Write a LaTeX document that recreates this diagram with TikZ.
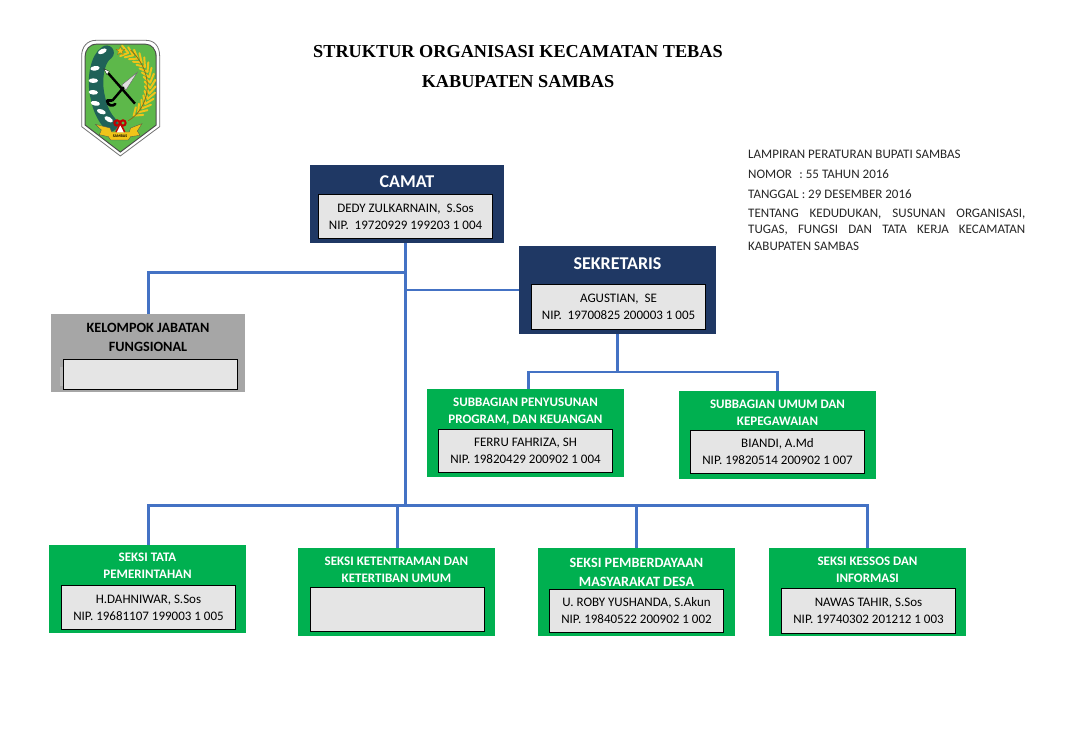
\documentclass[tikz,border=0pt]{standalone}
\usepackage{fontspec}
\setmainfont{Carlito}
\newfontfamily\serifbold{Liberation Serif}[BoldFont={Liberation Serif Bold}]
\definecolor{navy}{HTML}{1F3864}
\definecolor{grn}{HTML}{00B050}
\definecolor{gry}{HTML}{A6A6A6}
\definecolor{pale}{HTML}{E5E5E5}
\definecolor{wire}{HTML}{4472C4}
\definecolor{teal1}{HTML}{1F6258}
\definecolor{leaf}{HTML}{5DB84A}
\definecolor{gold}{HTML}{F0C419}
\definecolor{golddk}{HTML}{8A6D14}
\tikzset{
  x=1pt,y=-1pt,
  blockbase/.style={rectangle,inner sep=0pt,outer sep=0pt,draw=none},
  navyblock/.style={blockbase,fill=navy},
  greenblock/.style={blockbase,fill=grn},
  grayblock/.style={blockbase,fill=gry},
  namebox/.style={rectangle,inner sep=0pt,outer sep=0pt,draw=black,line width=0.9pt,fill=pale,align=center,text=black,font=\fontsize{13}{17}\selectfont},
  headtext/.style={inner sep=0pt,align=center,text=white,font=\fontsize{13}{17}\selectfont\bfseries},
  conn/.style={draw=wire,line width=2.8pt,line join=miter,line cap=butt},
  doctitle/.style={inner sep=0pt,font=\fontsize{18.25}{23}\selectfont\serifbold\bfseries},
  notetext/.style={inner sep=0pt,anchor=west,text=black!85,font=\fontsize{13}{15}\selectfont},
}
% name, x1, y1, x2, y2, style
\newcommand{\blk}[6]{\node[#6,minimum width=#4pt-#2pt,minimum height=#5pt-#3pt] (#1) at ({(#2+#4)/2},{(#3+#5)/2}) {};}
\newcommand{\inbox}[6]{\node[namebox,minimum width=#4pt-#2pt-1pt,minimum height=#5pt-#3pt-1pt] (#1) at ({(#2+#4)/2},{(#3+#5)/2}) {#6};}
\begin{document}
\begin{tikzpicture}
\useasboundingbox (0,0) rectangle (1073,735);
\fill[white] (0,0) rectangle (1073,735);

% ---------- logo
\begin{scope}[shift={(60,30)},x=0.3333pt,y=-0.3333pt]
  \draw[draw=black!55,fill=white,line width=0.8pt,line join=round]
    (65,78) .. controls (65,50) and (82,31) .. (108,31) -- (258,31) .. controls (284,31) and (299,50) .. (299,78)
    -- (299,290) -- (181,378) -- (65,290) -- cycle;
  \fill[black!70] (74,80) .. controls (74,58) and (88,41) .. (110,41) -- (256,41) .. controls (276,41) and (290,58) .. (290,80)
    -- (290,286) -- (181,368) -- (74,286) -- cycle;
  \fill[leaf] (77,80) .. controls (77,60) and (90,44) .. (110,44) -- (256,44) .. controls (274,44) and (287,60) .. (287,80)
    -- (287,284) -- (181,364) -- (77,284) -- cycle;
  % left garland
  \draw[teal1,line width=14.5pt,line cap=round] (140,68) .. controls (112,85) and (100,150) .. (114,205) .. controls (120,235) and (132,262) .. (152,283);
  \foreach \px/\py/\rot in {127/64/25,105/115/8,100/152/0,100/187/-5,106/220/-10,124/245/-20,146/268/-30} {
    \fill[white,shift={(\px,\py)},rotate=\rot] (0,0) ellipse (14 and 7);
  }
  % wheat
  \foreach \t in {-68,-59,...,66} {
    \pgfmathsetmacro{\ax}{165+106*cos(\t)}
    \pgfmathsetmacro{\ay}{167+106*sin(\t)}
    \pgfmathsetmacro{\bx}{165+122*cos(\t-12)}
    \pgfmathsetmacro{\by}{167+122*sin(\t-12)}
    \pgfmathsetmacro{\cx}{165+90*cos(\t-12)}
    \pgfmathsetmacro{\cy}{167+90*sin(\t-12)}
    \draw[gold,line width=2pt,line cap=round] (\ax,\ay) -- (\bx,\by);
    \draw[gold,line width=2pt,line cap=round] (\ax,\ay) -- (\cx,\cy);
  }
  \draw[golddk,line width=0.8pt] (205,272) .. controls (262,240) and (295,140) .. (212,60);
  % star
  \fill[gold,draw=golddk,line width=0.25pt] (181,49) -- (184.5,58) -- (194,58) -- (186.5,64) -- (189.5,74) -- (181,68) -- (172.5,74) -- (175.5,64) -- (168,58) -- (177.5,58) -- cycle;
  % spear
  \draw[black,line width=2.4pt] (145,130) -- (225,221);
  \fill[white,draw=black,line width=0.3pt] (131,116) -- (148,124) -- (141,134) -- cycle;
  % sword
  \fill[black!12,draw=black!60,line width=0.4pt] (232,127) -- (185,165) -- (198,180) -- cycle;
  \draw[black,line width=2.4pt,line cap=round] (190,173) -- (157,212);
  \draw[black,line width=2.6pt,line cap=round] (141,212) .. controls (143,228) and (158,230) .. (166,222);
  \draw[black,line width=2.4pt] (141,212) -- (157,212);
  % ribbon
  \fill[gold,draw=black!70,line width=0.3pt] (106,283) -- (150,294) -- (155,306) -- (208,306) -- (212,294) -- (246,281) -- (232,303) -- (240,316) -- (212,320) -- (205,330) -- (152,330) -- (145,320) -- (118,314) -- (124,300) -- cycle;
  \node[inner sep=0pt,text=black,font=\fontsize{4}{5}\selectfont\bfseries] (logotext) at (180,318) {SAMBAS};
  % bow
  \draw[red!75!black,line width=2pt] (171,279) circle (8);
  \draw[red!75!black,line width=2pt] (189,279) circle (8);
  \fill[white] (175,288) -- (186,288) -- (192,307) -- (170,307) -- cycle;
  \draw[red!75!black,line width=1.5pt] (178,286) -- (168,306);
  \draw[red!75!black,line width=1.5pt] (184,286) -- (194,306);
\end{scope}

% ---------- titles
\node[doctitle] (t1) at (518,51.5) {STRUKTUR ORGANISASI KECAMATAN TEBAS};
\node[doctitle] (t2) at (518,81.5) {KABUPATEN SAMBAS};

% ---------- note
\node[notetext] (n1) at (748,154) {LAMPIRAN PERATURAN BUPATI SAMBAS};
\node[notetext] (n2) at (748,174) {NOMOR\hspace{7.5pt}: 55 TAHUN 2016};
\node[notetext] (n3) at (748,194) {TANGGAL : 29 DESEMBER 2016};
\node[notetext] (n4) at (748,214.5) {\hbox to 277pt{TENTANG\hfill KEDUDUKAN,\hfill SUSUNAN\hfill ORGANISASI,}};
\node[notetext] (n5) at (748,230) {\hbox to 277pt{TUGAS,\hfill FUNGSI\hfill DAN\hfill TATA\hfill KERJA\hfill KECAMATAN}};
\node[notetext] (n6) at (748,246) {KABUPATEN SAMBAS};

% ---------- blocks
\blk{camat}{310}{165}{504}{243}{navyblock}
\inbox{camatN}{318}{194}{493}{239}{DEDY ZULKARNAIN,\ \ S.Sos\\NIP.\ \ 19720929 199203 1 004}
\node[headtext,font=\fontsize{18}{20}\selectfont\bfseries] (camatT) at (407,181.5) {CAMAT};

\blk{sek}{519}{246}{716}{334}{navyblock}
\inbox{sekN}{531}{284}{706}{330}{AGUSTIAN,\ \ SE\\NIP.\ \ 19700825 200003 1 005}
\node[headtext,font=\fontsize{18}{20}\selectfont\bfseries] (sekT) at (617.5,263.5) {SEKRETARIS};

\blk{kel}{51}{314}{245}{392}{grayblock}
\fill[gry!80!white] (60,367) rectangle (66,386);
\inbox{kelN}{63}{359}{238}{390}{}
\node[headtext,text=black,font=\fontsize{14.2}{19}\selectfont\bfseries] (kelT) at (148,337.5) {KELOMPOK JABATAN\\FUNGSIONAL};

\blk{subA}{427}{389}{624}{477}{greenblock}
\inbox{subAN}{438}{429}{613}{473}{FERRU FAHRIZA, SH\\NIP. 19820429 200902 1 004}
\node[headtext] (subAT) at (525.5,411.5) {SUBBAGIAN PENYUSUNAN\\PROGRAM, DAN KEUANGAN};

\blk{subB}{679}{391}{876}{479}{greenblock}
\inbox{subBN}{690}{430}{865}{474}{BIANDI, A.Md\\NIP. 19820514 200902 1 007}
\node[headtext] (subBT) at (777.5,412.5) {SUBBAGIAN UMUM DAN\\KEPEGAWAIAN};

\blk{sA}{49}{545}{246}{633}{greenblock}
\inbox{sAN}{61}{585}{236}{630}{H.DAHNIWAR, S.Sos\\NIP. 19681107 199003 1 005}
\node[headtext] (sAT) at (147.5,566) {SEKSI TATA\\PEMERINTAHAN};

\blk{sB}{298}{548}{495}{636}{greenblock}
\inbox{sBN}{310}{587}{485}{632}{}
\node[headtext] (sBT) at (396.5,569.5) {SEKSI KETENTRAMAN DAN\\KETERTIBAN UMUM};

\blk{sC}{538}{548}{735}{636}{greenblock}
\inbox{sCN}{549}{589}{724}{633}{U. ROBY YUSHANDA, S.Akun\\NIP. 19840522 200902 1 002}
\node[headtext,font=\fontsize{14.2}{19}\selectfont\bfseries] (sCT) at (636.5,572.5) {SEKSI PEMBERDAYAAN\\MASYARAKAT DESA};

\blk{sD}{769}{548}{966}{636}{greenblock}
\inbox{sDN}{781}{588}{956}{634}{NAWAS TAHIR, S.Sos\\NIP. 19740302 201212 1 003}
\node[headtext] (sDT) at (867.5,569.5) {SEKSI KESSOS DAN\\INFORMASI};

% ---------- connectors
\coordinate (trunkEnd) at (405.3,505.5);
\coordinate (jKel) at (405.3,272.7);
\coordinate (kelTurn) at (148.3,272.7);
\coordinate (jSek) at (405.3,290);
\coordinate (subBar) at (617.3,372);
\coordinate (subLeft) at (528.7,372);
\coordinate (subRight) at (777.3,372);
\coordinate (busLeft) at (148.3,505.5);
\coordinate (busB) at (397.3,505.5);
\coordinate (busC) at (636.7,505.5);
\coordinate (busRight) at (867.3,505.5);

\draw[conn] (trunkEnd |- camat.south) -- (trunkEnd);
\draw[conn] (jKel) -- (kelTurn) -- (kelTurn |- kel.north);
\draw[conn] (jSek) -- (jSek -| sek.west);
\draw[conn] (subBar |- sek.south) -- (subBar);
\draw[conn] (subLeft |- subA.north) -- (subLeft) -- (subRight) -- (subRight |- subB.north);
\draw[conn] (busLeft |- sA.north) -- (busLeft) -- (busRight) -- (busRight |- sD.north);
\draw[conn] (busB) -- (busB |- sB.north);
\draw[conn] (busC) -- (busC |- sC.north);
\end{tikzpicture}
\end{document}
